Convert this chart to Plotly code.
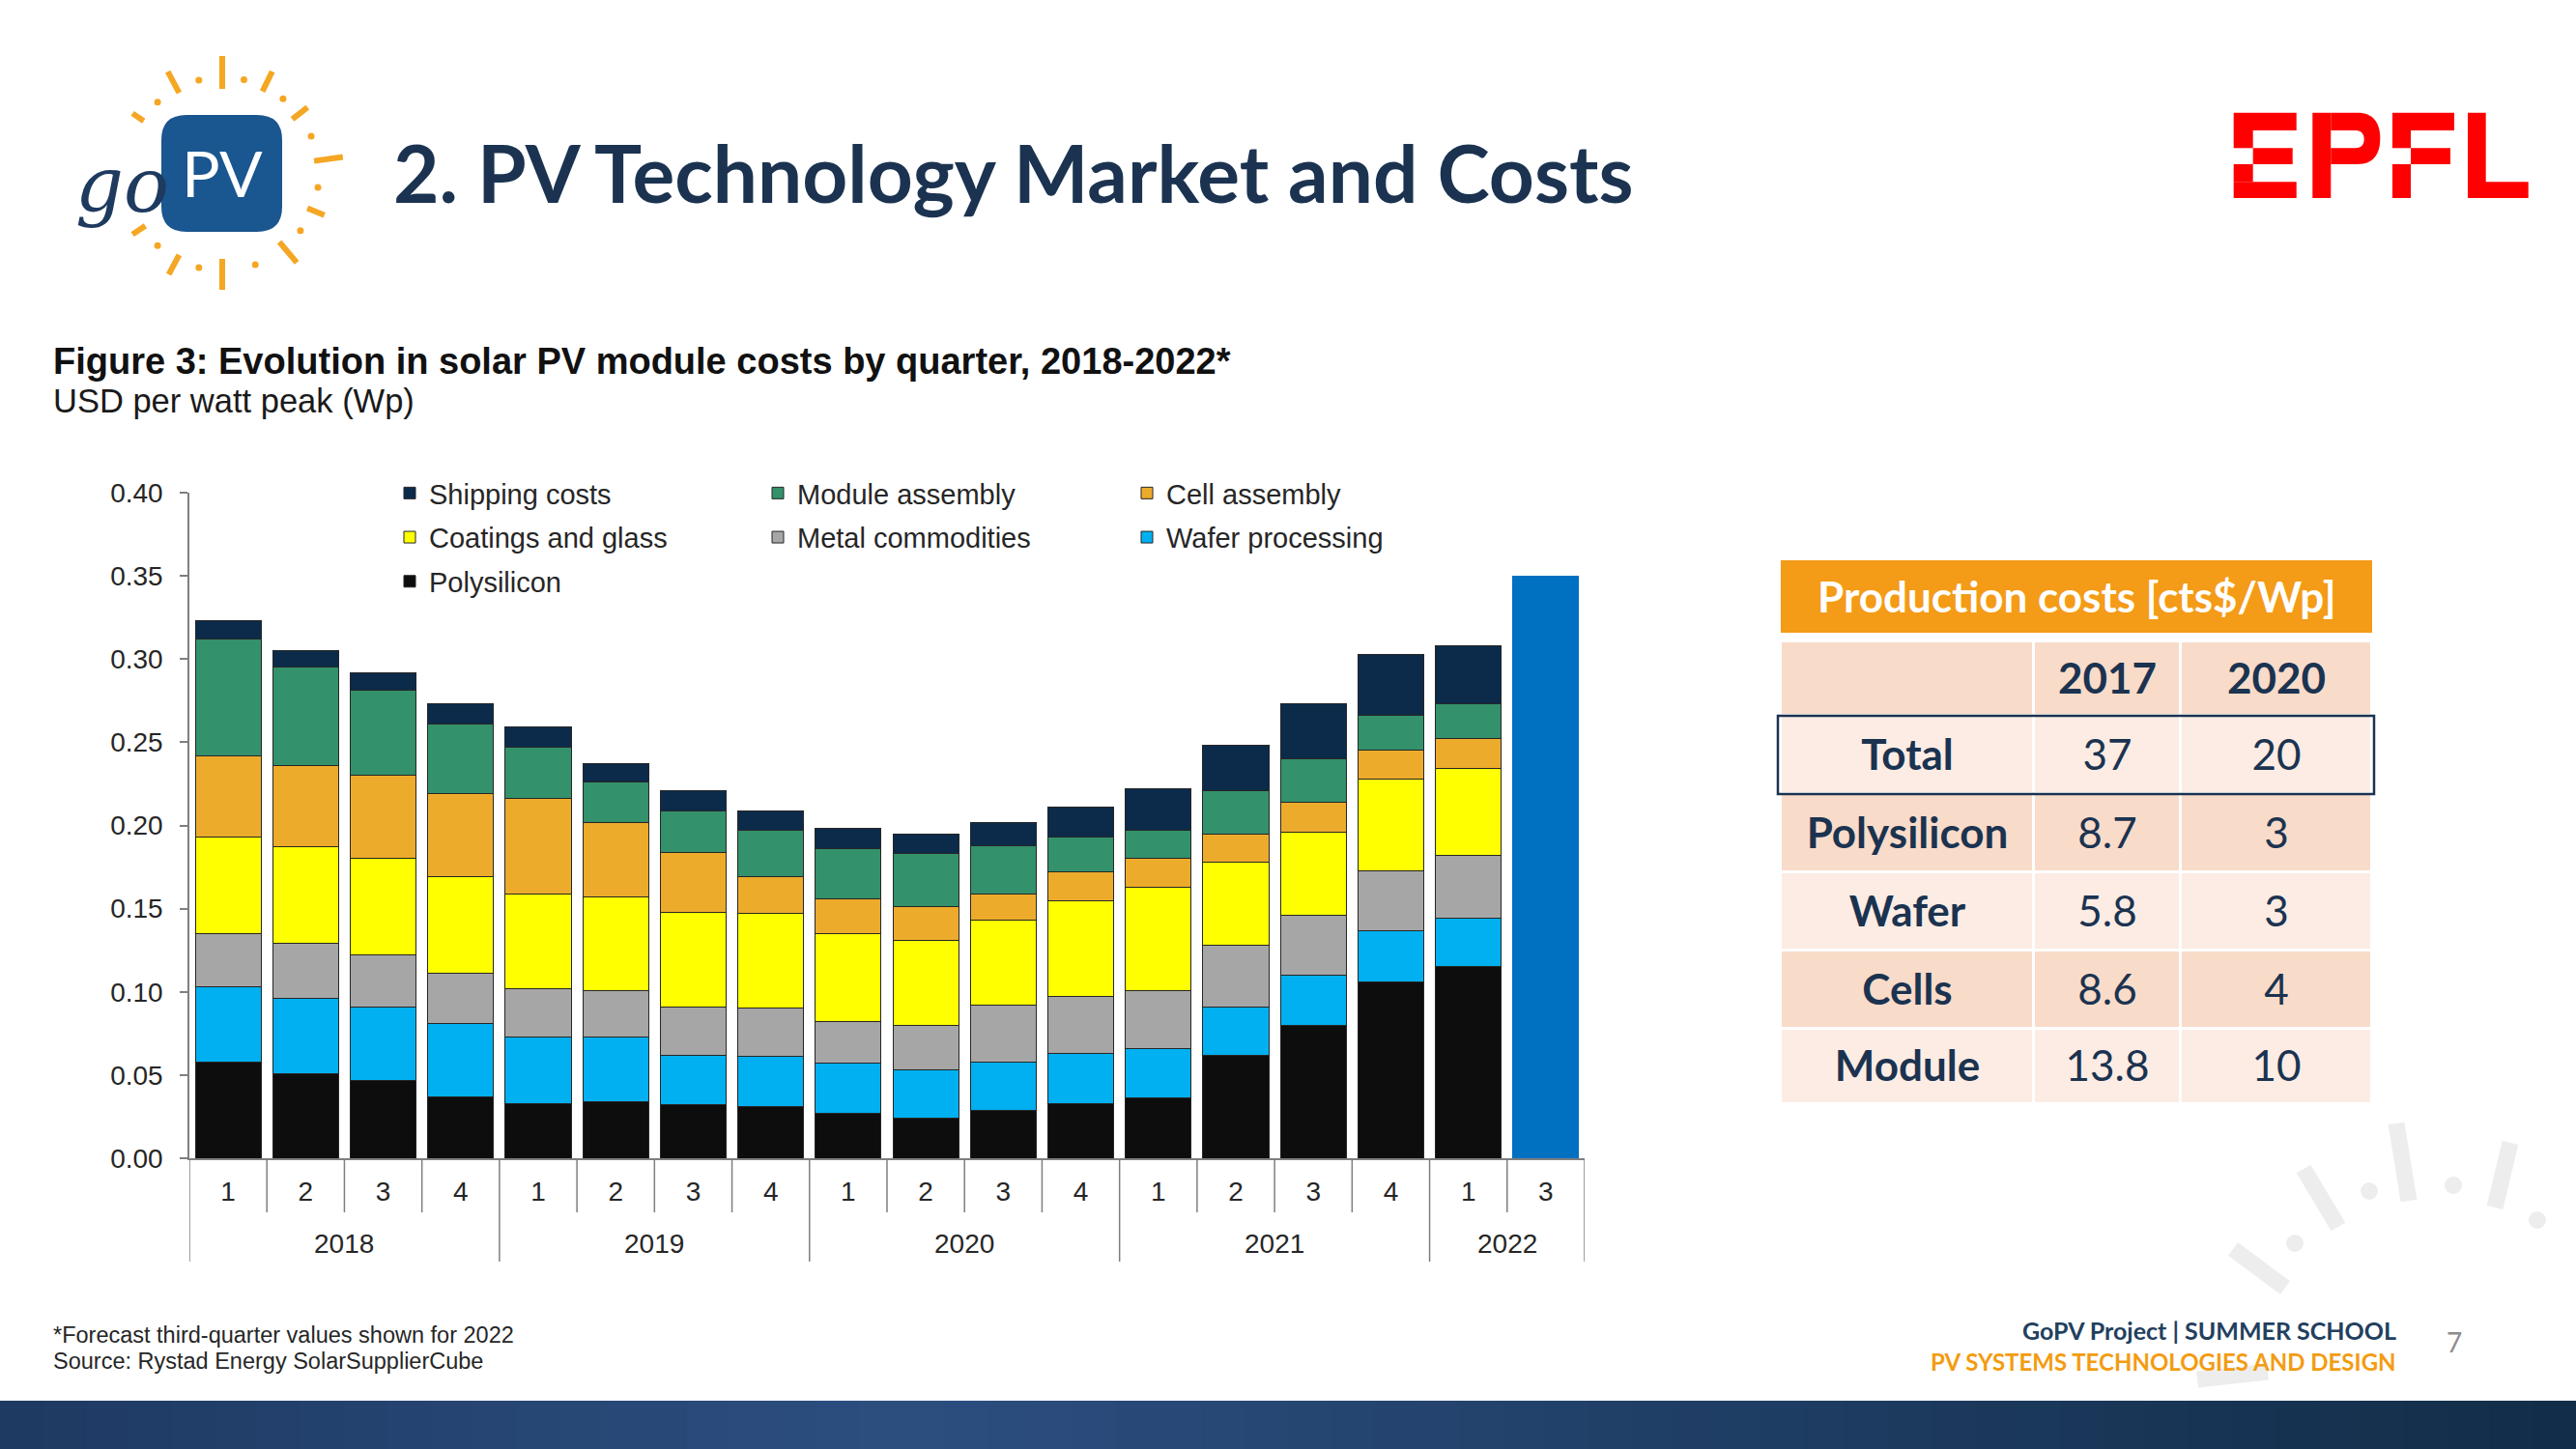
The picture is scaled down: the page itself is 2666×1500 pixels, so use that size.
import math
import plotly.graph_objects as go

# ---------------- data ----------------
years = ["2018"] * 4 + ["2019"] * 4 + ["2020"] * 4 + ["2021"] * 4 + ["2022"] * 2
quarters = ["1", "2", "3", "4"] * 4 + ["1", "3"]

polysilicon = [0.058, 0.051, 0.047, 0.037, 0.033, 0.034, 0.032, 0.031, 0.027, 0.024, 0.029, 0.033, 0.036, 0.062, 0.080, 0.106, 0.115]
wafer       = [0.045, 0.045, 0.044, 0.044, 0.040, 0.039, 0.030, 0.030, 0.030, 0.029, 0.029, 0.030, 0.030, 0.029, 0.030, 0.031, 0.029]
metal       = [0.032, 0.033, 0.031, 0.030, 0.029, 0.028, 0.029, 0.029, 0.025, 0.027, 0.034, 0.034, 0.035, 0.037, 0.036, 0.036, 0.038]
coatings    = [0.058, 0.058, 0.058, 0.058, 0.057, 0.056, 0.057, 0.057, 0.053, 0.051, 0.051, 0.058, 0.062, 0.050, 0.050, 0.055, 0.052]
cell        = [0.049, 0.049, 0.050, 0.050, 0.057, 0.045, 0.036, 0.022, 0.021, 0.020, 0.016, 0.017, 0.017, 0.017, 0.018, 0.017, 0.018]
module      = [0.070, 0.059, 0.051, 0.042, 0.031, 0.024, 0.025, 0.028, 0.030, 0.032, 0.029, 0.021, 0.017, 0.026, 0.026, 0.021, 0.021]
shipping    = [0.011, 0.010, 0.011, 0.012, 0.012, 0.011, 0.012, 0.012, 0.012, 0.012, 0.014, 0.018, 0.025, 0.027, 0.033, 0.037, 0.035]
forecast_total = [0.35]

table_title = "Production costs [cts$/Wp]"
table_years = ["2017", "2020"]
table_rows = ["Total", "Polysilicon", "Wafer", "Cells", "Module"]
table_2017 = [37, 8.7, 5.8, 8.6, 13.8]
table_2020 = [20, 3, 3, 4, 10]

categories = [f"{y} Q{q}" for y, q in zip(years, quarters)]
hist_cats = categories[:len(polysilicon)]
fc_cats = categories[-1:]

# ---------------- geometry helpers (figure pixels -> paper) ----------------
W, H = 2666, 1500
def X(px):
    return px / W
def Y(py):
    return 1 - py / H

NAVY = "#1B3350"
TXT = "#262626"
CHART_FONT = "Liberation Sans"

# name, values, colour, legend column, rank inside column
series = [
    ("Polysilicon", polysilicon, "#0D0D0D", "legend", 3),
    ("Wafer processing", wafer, "#00B0F0", "legend3", 2),
    ("Metal commodities", metal, "#A6A6A6", "legend2", 2),
    ("Coatings and glass", coatings, "#FFFF00", "legend", 2),
    ("Cell assembly", cell, "#EDAB2B", "legend3", 1),
    ("Module assembly", module, "#33916B", "legend2", 1),
    ("Shipping costs", shipping, "#0C2B4B", "legend", 1),
]

fig = go.Figure()
for name, vals, col, lg, rank in series:
    fig.add_trace(go.Bar(
        x=hist_cats, y=vals, name=name, legend=lg, legendgroup=name, legendrank=rank,
        marker=dict(color=col, line=dict(color="#262626", width=1)),
    ))
fig.add_trace(go.Bar(
    x=fc_cats, y=forecast_total, name="Forecast", showlegend=False,
    marker=dict(color="#0070C0", line=dict(color="#0070C0", width=1)),
))

# ---------------- table as a heatmap grid ----------------
tbl_text = [[""] + [f"<b>{y}</b>" for y in table_years]]
for r, a, b in zip(table_rows, table_2017, table_2020):
    tbl_text.append([f"<b>{r}</b>", str(a), str(b)])
tbl_band = [[(i + 1) % 2] * 3 for i in range(len(tbl_text))]
col_edges = [0, 262, 414, 612]
row_edges = [0, 77, 158, 239, 320, 401, 479]
fig.add_trace(go.Heatmap(
    z=tbl_band, x=col_edges, y=row_edges, text=tbl_text, texttemplate="%{text}",
    textfont=dict(family="Lato", size=44, color=NAVY),
    colorscale=[[0, "#FCECE4"], [1, "#F9DBC9"]], zmin=0, zmax=1, showscale=False,
    xgap=3, ygap=3, hoverinfo="skip", xaxis="x2", yaxis="y2",
))

shapes = []
annotations = []

# x-axis separators & year labels (derived from categories)
axis_y = 1199
n = len(categories)
for i in range(n + 1):
    b = i - 0.5
    is_year = i == 0 or i == n or years[i] != years[i - 1]
    shapes.append(dict(type="line", xref="x", yref="paper", x0=b, x1=b,
                       y0=Y(axis_y), y1=Y(1306 if is_year else 1255),
                       line=dict(color="#7F7F7F", width=1.5)))
for yr in sorted(set(years)):
    idx = [i for i, y in enumerate(years) if y == yr]
    annotations.append(dict(xref="x", yref="paper", x=(idx[0] + idx[-1]) / 2, y=Y(1287), xanchor="center",
                            text=yr, showarrow=False, font=dict(family=CHART_FONT, size=28, color=TXT)))

# titles / notes
annotations += [
    dict(x=X(53), y=Y(374), text="<b>Figure 3: Evolution in solar PV module costs by quarter, 2018-2022*</b>",
         xanchor="left", font=dict(family=CHART_FONT, size=38, color="#111111")),
    dict(x=X(53), y=Y(415), text="USD per watt peak (Wp)", xanchor="left",
         font=dict(family=CHART_FONT, size=34.5, color="#1A1A1A")),
    dict(x=X(53), y=Y(1382), text="*Forecast third-quarter values shown for 2022", xanchor="left",
         font=dict(family=CHART_FONT, size=23.5, color=TXT)),
    dict(x=X(53), y=Y(1409), text="Source: Rystad Energy SolarSupplierCube", xanchor="left",
         font=dict(family=CHART_FONT, size=23.5, color=TXT)),
    dict(x=X(405), y=Y(178), text="<b>2. PV Technology Market and Costs</b>", xanchor="left",
         font=dict(family="Lato", size=82, color=NAVY)),
    dict(x=X(2149), y=Y(617), text=f"<b>{table_title}</b>", xanchor="center",
         font=dict(family="Lato", size=44, color="white")),
    dict(x=X(2482), y=Y(1377), text="<b>GoPV Project | SUMMER SCHOOL</b>", xanchor="right",
         font=dict(family="Lato", size=25, color="#22405E")),
    dict(x=X(2482), y=Y(1409), text="<b>PV SYSTEMS TECHNOLOGIES AND DESIGN</b>", xanchor="right",
         font=dict(family="Lato", size=24, color="#F39C12")),
    dict(x=X(2540), y=Y(1389), text="7", xanchor="center", font=dict(family="Lato", size=28, color="#8C8C8C")),
    dict(x=X(230), y=Y(178), text="PV", xanchor="center", font=dict(family="Lato", size=66, color="white")),
    dict(x=X(126), y=Y(192), text="<i>go</i>", xanchor="center",
         font=dict(family="DejaVu Serif", size=78, color="#1E3A5F")),
]
for a in annotations:
    a.setdefault("xref", "paper")
    a.setdefault("yref", "paper")
    a.setdefault("showarrow", False)
    a.setdefault("yanchor", "middle")

# table header bar and Total outline
shapes.append(dict(type="rect", xref="paper", yref="paper", x0=X(1843), x1=X(2455), y0=Y(655), y1=Y(580),
                   fillcolor="#F49B17", line=dict(width=0)))
shapes.append(dict(type="rect", xref="paper", yref="paper", x0=X(1840), x1=X(2457), y0=Y(822), y1=Y(741),
                   fillcolor="rgba(0,0,0,0)", line=dict(color=NAVY, width=2.5)))

# bottom band (gradient imitation)
stops = [(0.0, (30, 58, 98)), (0.35, (44, 78, 128)), (1.0, (18, 45, 72))]
def grad(t):
    for (t0, c0), (t1, c1) in zip(stops[:-1], stops[1:]):
        if t0 <= t <= t1:
            f = (t - t0) / (t1 - t0)
            return "rgb(%d,%d,%d)" % tuple(round(a + (b - a) * f) for a, b in zip(c0, c1))
    return "rgb(18,45,72)"
N = 60
for k in range(N):
    shapes.append(dict(type="rect", xref="paper", yref="paper", x0=k / N, x1=(k + 1) / N + 0.001,
                       y0=0, y1=Y(1450), fillcolor=grad((k + 0.5) / N), line=dict(width=0), layer="below"))

# watermark strokes (bottom right)
wm = "#EDEDED"
for (x0, y0, x1, y1) in [(2480, 1163, 2493, 1243), (2598, 1183, 2582, 1250), (2384, 1210, 2420, 1270),
                         (2311, 1293, 2365, 1333), (2274, 1428, 2347, 1420)]:
    shapes.append(dict(type="line", xref="paper", yref="paper", x0=X(x0), y0=Y(y0), x1=X(x1), y1=Y(y1),
                       line=dict(color=wm, width=17), layer="below"))
for (cx, cy) in [(2452, 1233), (2539, 1227), (2375, 1287), (2626, 1263)]:
    shapes.append(dict(type="circle", xref="paper", yref="paper", x0=X(cx - 9), x1=X(cx + 9),
                       y0=Y(cy + 9), y1=Y(cy - 9), fillcolor=wm, line=dict(width=0), layer="below"))

# EPFL logo
red = "#FF0000"
for (x0, y0, x1, y1) in [(2311.7, 116.7, 2376.7, 135), (2311.7, 135, 2331.7, 153.3), (2331.7, 153.3, 2372.7, 170),
                         (2311.7, 170, 2331.7, 188.3), (2311.7, 188.3, 2376.7, 205),
                         (2393.3, 116.7, 2412.3, 205),
                         (2476, 116.7, 2540, 135), (2476, 135, 2495, 153.3), (2495, 153.3, 2536, 170),
                         (2476, 170, 2495, 205),
                         (2554, 116.7, 2572.7, 205), (2554, 188.3, 2616.7, 205)]:
    shapes.append(dict(type="rect", xref="paper", yref="paper", x0=X(x0), x1=X(x1), y0=Y(y1), y1=Y(y0),
                       fillcolor=red, line=dict(width=0)))
def P(pts):
    return " ".join(f"{cmd}{' '.join(f'{X(a):.5f},{Y(b):.5f}' for a, b in pp)}" for cmd, pp in pts)
bowl = P([("M", [(2412.3, 116.7)]), ("L", [(2440, 116.7)]), ("C", [(2456, 116.7), (2463.3, 127), (2463.3, 143.3)]),
          ("C", [(2463.3, 160), (2456, 170), (2440, 170)]), ("L", [(2412.3, 170)])]) + " Z"
shapes.append(dict(type="path", xref="paper", yref="paper", path=bowl, fillcolor=red, line=dict(width=0)))
counter = P([("M", [(2412.3, 135)]), ("L", [(2438, 135)]), ("C", [(2444, 135), (2446.7, 139), (2446.7, 144)]),
             ("C", [(2446.7, 149.5), (2444, 153.3), (2438, 153.3)]), ("L", [(2412.3, 153.3)])]) + " Z"
shapes.append(dict(type="path", xref="paper", yref="paper", path=counter, fillcolor="white", line=dict(width=0)))

# GoPV logo: rounded square + sun rays
x0, y0, x1, y1, r = 167, 119, 292, 240, 26
sq = P([("M", [(x0 + r, y0)]), ("L", [(x1 - r, y0)]), ("Q", [(x1, y0), (x1, y0 + r)]), ("L", [(x1, y1 - r)]),
        ("Q", [(x1, y1), (x1 - r, y1)]), ("L", [(x0 + r, y1)]), ("Q", [(x0, y1), (x0, y1 - r)]),
        ("L", [(x0, y0 + r)]), ("Q", [(x0, y0), (x0 + r, y0)])]) + " Z"
shapes.append(dict(type="path", xref="paper", yref="paper", path=sq, fillcolor="#1A5690", line=dict(width=0),
                   layer="below"))
cx, cy = 230, 180
sun = "#F5A623"
for ang, rin, rout in [(90, 88, 122), (64, 95, 118), (38, 92, 112), (8, 96, 126), (-22, 95, 114), (-50, 92, 120),
                       (-90, 88, 120), (-118, 95, 118), (-146, 96, 112), (118, 95, 120), (146, 98, 112)]:
    a = math.radians(ang)
    shapes.append(dict(type="line", xref="paper", yref="paper",
                       x0=X(cx + rin * math.cos(a)), y0=Y(cy - rin * math.sin(a)),
                       x1=X(cx + rout * math.cos(a)), y1=Y(cy - rout * math.sin(a)),
                       line=dict(color=sun, width=6), layer="below"))
for ang in [77, 51, 23, -8, -36, -70, -104, -132, 104, 132]:
    a = math.radians(ang)
    px_, py_ = cx + 100 * math.cos(a), cy - 100 * math.sin(a)
    shapes.append(dict(type="circle", xref="paper", yref="paper", x0=X(px_ - 3.5), x1=X(px_ + 3.5),
                       y0=Y(py_ + 3.5), y1=Y(py_ - 3.5), fillcolor=sun, line=dict(width=0), layer="below"))

legend_common = dict(yanchor="top", xanchor="left", y=Y(485), orientation="v", bgcolor="rgba(0,0,0,0)",
                     traceorder="grouped", tracegroupgap=5,
                     font=dict(family=CHART_FONT, size=29, color=TXT))

fig.update_layout(
    width=W, height=H, autosize=False,
    margin=dict(l=0, r=0, t=0, b=0),
    paper_bgcolor="white", plot_bgcolor="rgba(0,0,0,0)",
    barmode="stack", bargap=0.15,
    font=dict(family=CHART_FONT, color=TXT),
    showlegend=True,
    legend=dict(x=X(404), **legend_common),
    legend2=dict(x=X(785), **legend_common),
    legend3=dict(x=X(1167), **legend_common),
    xaxis=dict(domain=[X(196), X(1640)], type="category", categoryorder="array", categoryarray=categories,
               range=[-0.5, n - 0.5], showline=True, linecolor="#7F7F7F", linewidth=1.5,
               ticks="", tickvals=categories, ticktext=quarters, ticklabelstandoff=9,
               tickfont=dict(family=CHART_FONT, size=28, color=TXT), showgrid=False, zeroline=False,
               automargin=False, fixedrange=True),
    yaxis=dict(domain=[Y(1199), Y(510)], range=[0, 0.40], dtick=0.05, tickformat=".2f",
               showline=True, linecolor="#7F7F7F", linewidth=1.5, ticks="outside", ticklen=8,
               tickcolor="#7F7F7F", tickwidth=1.5, ticklabelstandoff=12,
               tickfont=dict(family=CHART_FONT, size=28, color=TXT), showgrid=False, zeroline=False,
               automargin=False, fixedrange=True),
    xaxis2=dict(domain=[X(1843), X(2455)], range=[0, 612], visible=False, fixedrange=True),
    yaxis2=dict(domain=[Y(1143), Y(664)], range=[479, 0], visible=False, fixedrange=True),
    shapes=shapes,
    annotations=annotations,
)

fig.write_html("out.html", config={"displayModeBar": False},
               post_script="document.body.style.margin='0';document.body.style.overflow='hidden';")
